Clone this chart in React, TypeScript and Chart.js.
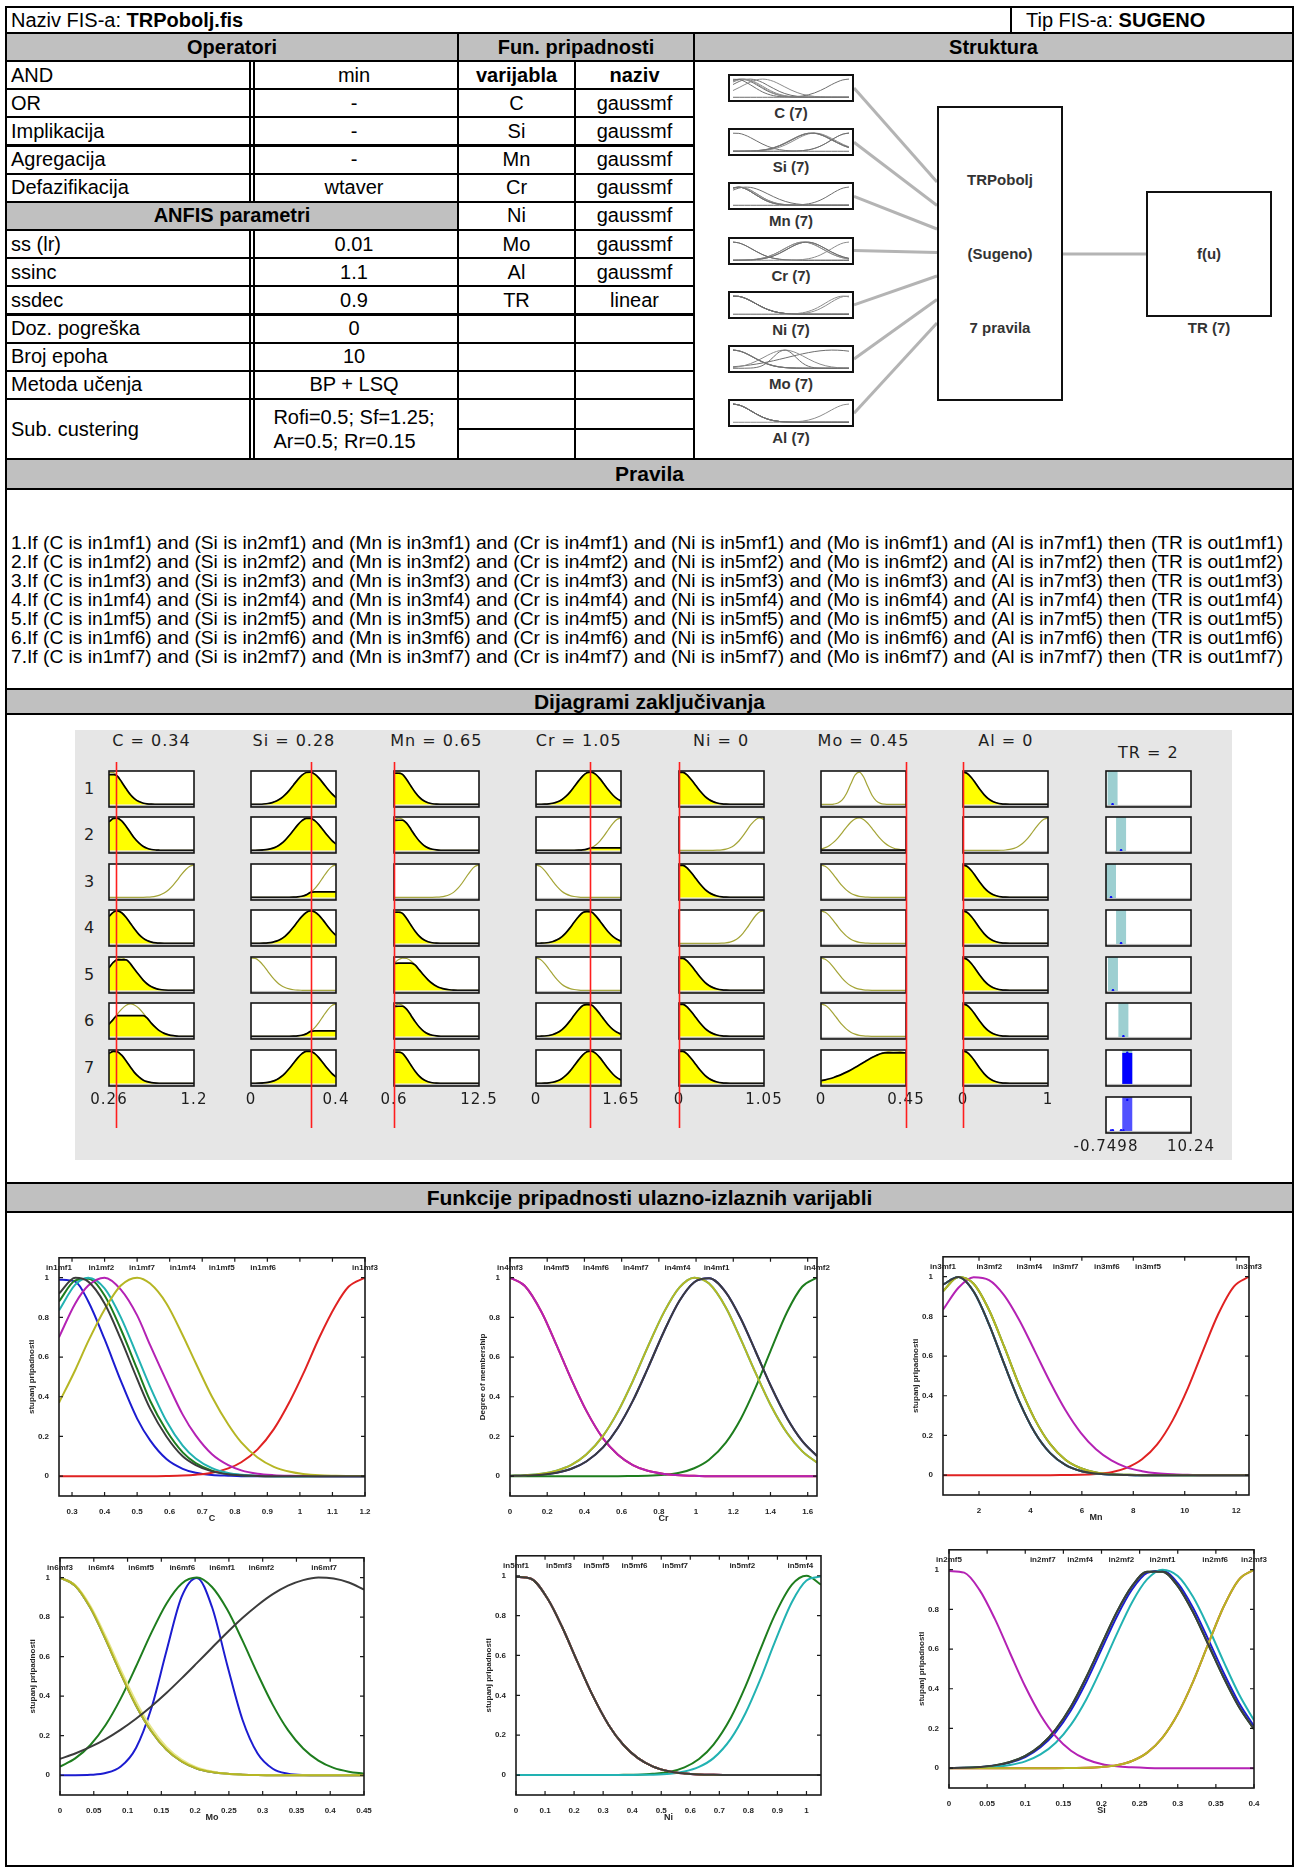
import React, { useEffect, useRef } from "react";
import { Chart, registerables } from "chart.js";

Chart.register(...registerables);

// ======================= DATA =======================
// Membership functions, one x grid per variable.
const X_C = [0.26, 0.31, 0.35, 0.4, 0.45, 0.5, 0.54, 0.59, 0.64, 0.68, 0.73, 0.78, 0.82, 0.87, 0.92, 0.97, 1.01, 1.06, 1.11, 1.15, 1.2];
const C_MF1 = [0.99, 0.98, 0.88, 0.69, 0.48, 0.29, 0.18, 0.086, 0.037, 0.017, 0.006, 0.002, 0, 0, 0, 0, 0, 0, 0, 0, 0];
const C_MF2 = [0.88, 0.986, 0.995, 0.91, 0.74, 0.54, 0.38, 0.23, 0.12, 0.066, 0.028, 0.011, 0.005, 0.001, 0, 0, 0, 0, 0, 0, 0];
const C_MF3 = [0, 0, 0, 0, 0, 0, 0, 0.001, 0.003, 0.007, 0.017, 0.039, 0.07, 0.135, 0.237, 0.38, 0.515, 0.7, 0.86, 0.955, 1];
const C_MF4 = [0.835, 0.965, 1, 0.946, 0.8, 0.607, 0.45, 0.278, 0.154, 0.089, 0.04, 0.016, 0.007, 0.002, 0, 0, 0, 0, 0, 0, 0];
const C_MF5 = [0.7, 0.87, 0.96, 1, 0.94, 0.81, 0.66, 0.48, 0.31, 0.205, 0.11, 0.055, 0.029, 0.012, 0.005, 0.002, 0.001, 0, 0, 0, 0];
const C_MF6 = [0.37, 0.535, 0.68, 0.84, 0.96, 1, 0.97, 0.87, 0.71, 0.57, 0.4, 0.26, 0.17, 0.094, 0.047, 0.022, 0.011, 0.004, 0.002, 0.001, 0];
const C_MF7 = [0.92, 1, 0.98, 0.87, 0.69, 0.49, 0.34, 0.2, 0.1, 0.056, 0.024, 0.009, 0.004, 0.001, 0, 0, 0, 0, 0, 0, 0];

const X_SI = [0, 0.02, 0.04, 0.06, 0.08, 0.1, 0.12, 0.14, 0.16, 0.18, 0.2, 0.22, 0.24, 0.26, 0.28, 0.3, 0.32, 0.34, 0.36, 0.38, 0.4];
const SI_MF1 = [0.001, 0.002, 0.005, 0.013, 0.028, 0.056, 0.105, 0.182, 0.292, 0.434, 0.598, 0.763, 0.9, 0.984, 0.995, 0.932, 0.808, 0.649, 0.482, 0.331, 0.211];
const SI_MF4 = [0, 0.001, 0.003, 0.007, 0.016, 0.034, 0.069, 0.128, 0.219, 0.346, 0.504, 0.675, 0.835, 0.952, 1, 0.968, 0.863, 0.71, 0.538, 0.375, 0.241];
const SI_MF5 = [0.993, 0.985, 0.898, 0.753, 0.58, 0.411, 0.268, 0.16, 0.088, 0.045, 0.021, 0.009, 0.004, 0.001, 0, 0, 0, 0, 0, 0, 0];
const SI_MF6 = [0, 0, 0, 0, 0, 0, 0, 0, 0.001, 0.002, 0.006, 0.015, 0.036, 0.078, 0.154, 0.273, 0.435, 0.626, 0.812, 0.949, 1];
const SI_MF7 = [0.001, 0.002, 0.006, 0.014, 0.031, 0.062, 0.114, 0.196, 0.311, 0.458, 0.623, 0.786, 0.917, 0.99, 0.99, 0.917, 0.786, 0.623, 0.458, 0.311, 0.196];
const SI_MF2 = SI_MF7;
const SI_MF3 = SI_MF6;

const X_MN = [0.6, 1.2, 1.79, 2.39, 2.98, 3.58, 4.17, 4.77, 5.36, 5.96, 6.55, 7.15, 7.74, 8.34, 8.93, 9.53, 10.12, 10.72, 11.31, 11.91, 12.5];
const MN_MF3 = [0, 0, 0, 0, 0, 0, 0, 0, 0.001, 0.002, 0.006, 0.015, 0.037, 0.08, 0.155, 0.276, 0.437, 0.63, 0.813, 0.95, 1];
const MN_MF5 = [0.833, 0.944, 0.997, 0.983, 0.906, 0.778, 0.625, 0.468, 0.328, 0.213, 0.13, 0.074, 0.039, 0.02, 0.009, 0.004, 0.002, 0, 0, 0, 0];
const MN_MF6 = [0.927, 0.998, 0.964, 0.832, 0.647, 0.448, 0.281, 0.156, 0.078, 0.035, 0.014, 0.005, 0.002, 0, 0, 0, 0, 0, 0, 0, 0];
const MN_MF7 = [0.96, 0.998, 0.925, 0.76, 0.56, 0.367, 0.215, 0.111, 0.052, 0.021, 0.008, 0.003, 0.001, 0, 0, 0, 0, 0, 0, 0, 0];
const MN_MF1 = MN_MF7;
const MN_MF2 = MN_MF6;
const MN_MF4 = MN_MF7;

const X_CR = [0, 0.08, 0.17, 0.25, 0.33, 0.41, 0.5, 0.58, 0.66, 0.74, 0.83, 0.91, 0.99, 1.07, 1.16, 1.24, 1.32, 1.4, 1.49, 1.57, 1.65];
const CR_MF2 = [0, 0, 0, 0, 0, 0, 0, 0, 0.001, 0.002, 0.007, 0.017, 0.04, 0.083, 0.169, 0.288, 0.447, 0.63, 0.828, 0.954, 1];
const CR_MF5 = [1, 0.958, 0.826, 0.66, 0.487, 0.33, 0.19, 0.108, 0.056, 0.027, 0.011, 0.004, 0.002, 0, 0, 0, 0, 0, 0, 0, 0];
const CR_MF6 = [0.002, 0.005, 0.012, 0.028, 0.057, 0.109, 0.203, 0.325, 0.479, 0.65, 0.83, 0.95, 1, 0.97, 0.85, 0.69, 0.52, 0.36, 0.216, 0.126, 0.068];
const CR_MF7 = [0.001, 0.003, 0.007, 0.017, 0.037, 0.074, 0.145, 0.244, 0.379, 0.542, 0.734, 0.882, 0.977, 0.997, 0.926, 0.794, 0.628, 0.458, 0.291, 0.178, 0.101];
const CR_MF1 = CR_MF7;
const CR_MF3 = CR_MF5;
const CR_MF4 = CR_MF6;

const X_NI = [0, 0.05, 0.11, 0.16, 0.21, 0.26, 0.32, 0.37, 0.42, 0.47, 0.53, 0.58, 0.63, 0.68, 0.74, 0.79, 0.84, 0.89, 0.95, 1, 1.05];
const NI_MF2 = [0, 0, 0, 0, 0, 0, 0, 0.001, 0.002, 0.006, 0.017, 0.039, 0.081, 0.153, 0.289, 0.445, 0.625, 0.8, 0.955, 1, 0.955];
const NI_MF4 = [0, 0, 0, 0, 0, 0, 0, 0, 0.001, 0.002, 0.007, 0.018, 0.041, 0.085, 0.183, 0.31, 0.476, 0.663, 0.868, 0.976, 0.996];
const NI_MF7 = [0.994, 0.986, 0.882, 0.739, 0.573, 0.411, 0.249, 0.151, 0.085, 0.044, 0.018, 0.008, 0.003, 0.001, 0, 0, 0, 0, 0, 0, 0];
const NI_MF1 = NI_MF7;
const NI_MF3 = NI_MF7;
const NI_MF5 = NI_MF7;
const NI_MF6 = NI_MF7;

const X_MO = [0, 0.0225, 0.045, 0.0675, 0.09, 0.1125, 0.135, 0.1575, 0.18, 0.2025, 0.225, 0.2475, 0.27, 0.2925, 0.315, 0.3375, 0.36, 0.3825, 0.405, 0.4275, 0.45];
const MO_MF1 = [0, 0, 0.002, 0.011, 0.044, 0.138, 0.336, 0.627, 0.902, 0.998, 0.851, 0.558, 0.282, 0.11, 0.033, 0.008, 0.001, 0, 0, 0, 0];
const MO_MF2 = [0.044, 0.085, 0.153, 0.254, 0.389, 0.55, 0.719, 0.868, 0.969, 1, 0.952, 0.838, 0.682, 0.513, 0.356, 0.228, 0.135, 0.074, 0.037, 0.018, 0.008];
const MO_MF6 = [1, 0.959, 0.847, 0.688, 0.514, 0.353, 0.224, 0.13, 0.07, 0.034, 0.016, 0.007, 0.003, 0.001, 0, 0, 0, 0, 0, 0, 0];
const MO_MF7 = [0.083, 0.11, 0.143, 0.183, 0.231, 0.286, 0.348, 0.416, 0.49, 0.567, 0.645, 0.722, 0.795, 0.86, 0.916, 0.959, 0.987, 1, 0.995, 0.975, 0.939];
const MO_MF3 = MO_MF6;
const MO_MF4 = MO_MF6;
const MO_MF5 = [1, 0.962, 0.856, 0.703, 0.533, 0.373, 0.241, 0.143, 0.079, 0.04, 0.019, 0.008, 0.003, 0.001, 0, 0, 0, 0, 0, 0, 0];

const X_AL = [0, 0.05, 0.1, 0.15, 0.2, 0.25, 0.3, 0.35, 0.4, 0.45, 0.5, 0.55, 0.6, 0.65, 0.7, 0.75, 0.8, 0.85, 0.9, 0.95, 1];
const AL_MF2 = [0, 0, 0, 0, 0, 0, 0, 0.001, 0.002, 0.005, 0.013, 0.03, 0.063, 0.12, 0.211, 0.339, 0.501, 0.678, 0.841, 0.958, 1];
const AL_MF7 = [1, 0.952, 0.823, 0.644, 0.458, 0.295, 0.172, 0.091, 0.044, 0.019, 0.008, 0.003, 0.001, 0, 0, 0, 0, 0, 0, 0, 0];
const AL_MF1 = AL_MF7;
const AL_MF3 = AL_MF7;
const AL_MF4 = AL_MF7;
const AL_MF5 = AL_MF7;
const AL_MF6 = AL_MF7;

// Inputs of the rule viewer and membership degree of each rule's input mf
const INPUT_VALUES = [0.34, 0.28, 0.65, 1.05, 0, 0.45, 0]; // C, Si, Mn, Cr, Ni, Mo, Al
const LEVELS_C = [0.92, 1, 0, 1, 0.94, 0.64, 0.99];
const LEVELS_SI = [1, 0.99, 0.17, 1, 0, 0.17, 0.99];
const LEVELS_MN = [0.96, 0.93, 0, 0.96, 0.84, 0.93, 0.96];
const LEVELS_CR = [1, 0.08, 0, 0.98, 0, 0.98, 1];
const LEVELS_NI = [0.99, 0, 0.99, 0, 0.99, 0.99, 0.99];
const LEVELS_MO = [0, 0.01, 0, 0, 0, 0, 0.94];
const LEVELS_AL = [1, 0, 1, 1, 1, 1, 1];
const RANGE_LABELS = [["0.26", "1.2"], ["0", "0.4"], ["0.6", "12.5"], ["0", "1.65"], ["0", "1.05"], ["0", "0.45"], ["0", "1"]];

// Output (Sugeno, linear) per rule: output level and firing strength
const TR_Z = [0.1, 1.2, -0.1, 1.2, 0.15, 1.5, 2.0];
const TR_W = [0, 0, 0, 0, 0, 0, 0.94];
const TR_OUT = 2;
const TR_MIN = -0.7498;
const TR_MAX = 10.24;

// Big membership plots: tick values and mf label placements
const C_TICKS = [0.3, 0.4, 0.5, 0.6, 0.7, 0.8, 0.9, 1, 1.1, 1.2];
const CR_TICKS = [0, 0.2, 0.4, 0.6, 0.8, 1, 1.2, 1.4, 1.6];
const MN_TICKS = [2, 4, 6, 8, 10, 12];
const MO_TICKS = [0, 0.05, 0.1, 0.15, 0.2, 0.25, 0.3, 0.35, 0.4, 0.45];
const NI_TICKS = [0, 0.1, 0.2, 0.3, 0.4, 0.5, 0.6, 0.7, 0.8, 0.9, 1];
const SI_TICKS = [0, 0.05, 0.1, 0.15, 0.2, 0.25, 0.3, 0.35, 0.4];
const Y_TICKS = [0, 0.2, 0.4, 0.6, 0.8, 1];
const C_NAMES = ["in1mf1", "in1mf2", "in1mf7", "in1mf4", "in1mf5", "in1mf6", "in1mf3"];
const C_NAME_POS = [0.26, 0.39, 0.515, 0.64, 0.76, 0.887, 1.2];
const CR_NAMES = ["in4mf3", "in4mf5", "in4mf6", "in4mf7", "in4mf4", "in4mf1", "in4mf2"];
const CR_NAME_POS = [0, 0.249, 0.462, 0.676, 0.9, 1.11, 1.65];
const MN_NAMES = ["in3mf1", "in3mf2", "in3mf4", "in3mf7", "in3mf6", "in3mf5", "in3mf3"];
const MN_NAME_POS = [0.6, 2.4, 3.96, 5.37, 6.97, 8.57, 12.5];
const MO_NAMES = ["in6mf3", "in6mf4", "in6mf5", "in6mf6", "in6mf1", "in6mf2", "in6mf7"];
const MO_NAME_POS = [0, 0.061, 0.12, 0.181, 0.24, 0.298, 0.391];
const NI_NAMES = ["in5mf1", "in5mf3", "in5mf5", "in5mf6", "in5mf7", "in5mf2", "in5mf4"];
const NI_NAME_POS = [0, 0.148, 0.277, 0.408, 0.548, 0.779, 0.979];
const SI_NAMES = ["in2mf5", "in2mf7", "in2mf4", "in2mf2", "in2mf1", "in2mf6", "in2mf3"];
const SI_NAME_POS = [0, 0.123, 0.172, 0.226, 0.28, 0.349, 0.4];

// Table texts
const OPERATOR_ROWS = [
  ["AND", "min"], ["OR", "-"], ["Implikacija", "-"], ["Agregacija", "-"], ["Defazifikacija", "wtaver"],
  null,
  ["ss (lr)", "0.01"], ["ssinc", "1.1"], ["ssdec", "0.9"], ["Doz. pogreška", "0"], ["Broj epoha", "10"], ["Metoda učenja", "BP + LSQ"],
];
const MF_ROWS = [
  ["varijabla", "naziv"], ["C", "gaussmf"], ["Si", "gaussmf"], ["Mn", "gaussmf"], ["Cr", "gaussmf"], ["Ni", "gaussmf"],
  ["Mo", "gaussmf"], ["Al", "gaussmf"], ["TR", "linear"], ["", ""], ["", ""], ["", ""],
];
const RULES = [1, 2, 3, 4, 5, 6, 7].map(
  (k) => `${k}.If (C is in1mf${k}) and (Si is in2mf${k}) and (Mn is in3mf${k}) and (Cr is in4mf${k}) and (Ni is in5mf${k}) and (Mo is in6mf${k}) and (Al is in7mf${k}) then (TR is out1mf${k})`
);

// ======================= MODEL =======================
const VAR_C = { name: "C", x: X_C, min: 0.26, max: 1.2, mfs: [C_MF1, C_MF2, C_MF3, C_MF4, C_MF5, C_MF6, C_MF7], levels: LEVELS_C };
const VAR_SI = { name: "Si", x: X_SI, min: 0, max: 0.4, mfs: [SI_MF1, SI_MF2, SI_MF3, SI_MF4, SI_MF5, SI_MF6, SI_MF7], levels: LEVELS_SI };
const VAR_MN = { name: "Mn", x: X_MN, min: 0.6, max: 12.5, mfs: [MN_MF1, MN_MF2, MN_MF3, MN_MF4, MN_MF5, MN_MF6, MN_MF7], levels: LEVELS_MN };
const VAR_CR = { name: "Cr", x: X_CR, min: 0, max: 1.65, mfs: [CR_MF1, CR_MF2, CR_MF3, CR_MF4, CR_MF5, CR_MF6, CR_MF7], levels: LEVELS_CR };
const VAR_NI = { name: "Ni", x: X_NI, min: 0, max: 1.05, mfs: [NI_MF1, NI_MF2, NI_MF3, NI_MF4, NI_MF5, NI_MF6, NI_MF7], levels: LEVELS_NI };
const VAR_MO = { name: "Mo", x: X_MO, min: 0, max: 0.45, mfs: [MO_MF1, MO_MF2, MO_MF3, MO_MF4, MO_MF5, MO_MF6, MO_MF7], levels: LEVELS_MO };
const VAR_AL = { name: "Al", x: X_AL, min: 0, max: 1, mfs: [AL_MF1, AL_MF2, AL_MF3, AL_MF4, AL_MF5, AL_MF6, AL_MF7], levels: LEVELS_AL };
const INPUT_VARS = [VAR_C, VAR_SI, VAR_MN, VAR_CR, VAR_NI, VAR_MO, VAR_AL];

const MF_COLORS = ["#1c1cd0", "#1e7d1e", "#e02222", "#22b2b2", "#c070c0", "#b6b624", "#3c3c3c"];
const MF_COLORS_MAIN = ["#1c1cd0", "#1e7d1e", "#e02222", "#22b2b2", "#b422b4", "#b6b624", "#3c3c3c"];
const OLIVE = "#a4a436";
const SANS = '"Liberation Sans", Arial, Helvetica, sans-serif';
const MAT = '"DejaVu Sans", Verdana, sans-serif';

const fmt = (v: number) => String(Number(Number(v).toFixed(4)));

// ======================= CHART HELPERS =======================
function ChartCanvas({ x, y, w, h, make }: any) {
  const ref = useRef<HTMLCanvasElement>(null);
  useEffect(() => {
    const chart = new Chart(ref.current as HTMLCanvasElement, make());
    return () => chart.destroy();
  }, []);
  return (
    <canvas
      ref={ref}
      width={w}
      height={h}
      style={{ position: "absolute", left: x, top: y, width: w, height: h, display: "block" }}
    />
  );
}

const baseOpts = (extra: any) => ({
  responsive: false,
  animation: false,
  devicePixelRatio: 1,
  events: [],
  plugins: { legend: { display: false }, tooltip: { enabled: false } },
  ...extra,
});

function framePlugin(names: string[], pos: number[]) {
  return {
    id: "mfFrame",
    afterDraw(chart: any) {
      const { ctx, chartArea: a, scales } = chart;
      const xs = scales.x;
      const ys = scales.y;
      ctx.save();
      ctx.strokeStyle = "#1a1a1a";
      ctx.lineWidth = 1.6;
      ctx.strokeRect(a.left, a.top, a.right - a.left, a.bottom - a.top);
      ctx.lineWidth = 1.2;
      ctx.beginPath();
      xs.ticks.forEach((t: any) => {
        const p = xs.getPixelForValue(t.value);
        ctx.moveTo(p, a.bottom);
        ctx.lineTo(p, a.bottom - 4);
        ctx.moveTo(p, a.top);
        ctx.lineTo(p, a.top + 4);
      });
      ys.ticks.forEach((t: any) => {
        const p = ys.getPixelForValue(t.value);
        ctx.moveTo(a.left, p);
        ctx.lineTo(a.left + 4, p);
        ctx.moveTo(a.right, p);
        ctx.lineTo(a.right - 4, p);
      });
      ctx.stroke();
      ctx.fillStyle = "#262626";
      ctx.font = `bold 8px ${SANS}`;
      ctx.textAlign = "center";
      ctx.textBaseline = "middle";
      const ly = ys.getPixelForValue(1.05);
      names.forEach((n, i) => ctx.fillText(n, xs.getPixelForValue(pos[i]), ly));
      ctx.restore();
    },
  };
}

function mfPlotConfig(p: any) {
  const v = p.v;
  const datasets = v.mfs.map((ys: number[], k: number) => ({
    data: v.x.map((x: number, i: number) => ({ x, y: ys[i] })),
    borderColor: k === 4 && v.name === "Mo" ? "#e6e68c" : MF_COLORS_MAIN[k],
    borderWidth: 2,
    pointRadius: 0,
    fill: false,
    cubicInterpolationMode: "monotone",
    order: 7 - k,
  }));
  const tickFont = { family: SANS, size: 8, weight: "bold" };
  return {
    type: "line",
    data: { datasets },
    options: baseOpts({
      layout: { padding: { left: 10, right: 18, top: 4, bottom: 2 }, autoPadding: false },
      scales: {
        x: {
          type: "linear",
          min: v.min,
          max: v.max,
          afterBuildTicks: (s: any) => {
            s.ticks = p.ticks.map((value: number) => ({ value }));
          },
          afterFit: (s: any) => {
            s.height = 28;
          },
          grid: { display: false },
          border: { display: false },
          ticks: { font: tickFont, color: "#262626", padding: 3, maxRotation: 0, autoSkip: false, callback: (val: any) => fmt(val) },
          title: { display: true, text: v.name, font: { family: SANS, size: 9, weight: "bold" }, color: "#262626", padding: 0 },
        },
        y: {
          type: "linear",
          min: -0.1,
          max: 1.1,
          afterBuildTicks: (s: any) => {
            s.ticks = Y_TICKS.map((value) => ({ value }));
          },
          afterFit: (s: any) => {
            s.width = 32;
          },
          grid: { display: false },
          border: { display: false },
          ticks: { font: tickFont, color: "#262626", padding: 2, autoSkip: false, callback: (val: any) => fmt(val) },
          title: { display: true, text: p.ytitle, font: { family: SANS, size: 8, weight: "bold" }, color: "#262626", padding: 0 },
        },
      },
    }),
    plugins: [framePlugin(p.names, p.pos)],
  };
}

function cellDeco(input: number | null, labels: string[] | null) {
  return {
    id: "cellDeco",
    beforeDatasetsDraw(chart: any) {
      const { ctx, chartArea: a } = chart;
      ctx.save();
      ctx.fillStyle = "#ffffff";
      ctx.fillRect(a.left, a.top, a.right - a.left, a.bottom - a.top);
      ctx.restore();
    },
    afterDatasetsDraw(chart: any) {
      const { ctx, chartArea: a, scales } = chart;
      const y0 = scales.y.getPixelForValue(0);
      ctx.save();
      ctx.fillStyle = "#b9b9b9";
      ctx.fillRect(a.left, y0 + 0.5, a.right - a.left, a.bottom - y0 - 0.5);
      ctx.strokeStyle = "#151515";
      ctx.lineWidth = 1.6;
      ctx.strokeRect(a.left, a.top, a.right - a.left, a.bottom - a.top);
      ctx.restore();
    },
    afterDraw(chart: any) {
      const { ctx, chartArea: a, scales } = chart;
      const xs = scales.x;
      ctx.save();
      if (labels) {
        ctx.font = `15px ${MAT}`;
        try {
          (ctx as any).letterSpacing = "1px";
        } catch (e) {}
        ctx.fillStyle = "#1e1e1e";
        ctx.textAlign = "center";
        ctx.textBaseline = "middle";
        ctx.fillText(labels[0], xs.getPixelForValue(xs.min), a.bottom + 14);
        ctx.fillText(labels[1], xs.getPixelForValue(xs.max), a.bottom + 14);
      }
      if (input !== null) {
        const px = Math.round(xs.getPixelForValue(input)) + 0.5;
        ctx.strokeStyle = "#ff1e1e";
        ctx.lineWidth = 1.6;
        ctx.beginPath();
        ctx.moveTo(px, 0);
        ctx.lineTo(px, chart.height);
        ctx.stroke();
      }
      ctx.restore();
    },
  };
}

const CELL_YMIN = -0.08;
const CELL_YMAX = 1.03;

function cellOptions(min: number, max: number, pad: any) {
  return baseOpts({
    layout: { padding: pad, autoPadding: false },
    scales: {
      x: { type: "linear", min, max, display: false },
      y: { type: "linear", min: CELL_YMIN, max: CELL_YMAX, display: false },
    },
  });
}

function inputCellConfig(v: any, k: number, input: number, pad: any, labels: string[] | null) {
  const mf = v.mfs[k];
  const level = v.levels[k];
  const datasets: any[] = [];
  if (level > 0) {
    datasets.push({
      data: v.x.map((x: number, i: number) => ({ x, y: Math.min(mf[i], level) })),
      borderColor: "#000000",
      borderWidth: 1.7,
      backgroundColor: "#ffff00",
      fill: "origin",
      pointRadius: 0,
      cubicInterpolationMode: "monotone",
      order: 0,
    });
  }
  datasets.push({
    data: v.x.map((x: number, i: number) => ({ x, y: mf[i] })),
    borderColor: OLIVE,
    borderWidth: 1.2,
    fill: false,
    pointRadius: 0,
    cubicInterpolationMode: "monotone",
    order: 1,
  });
  return { type: "line", data: { datasets }, options: cellOptions(v.min, v.max, pad), plugins: [cellDeco(input, labels)] };
}

function outputCellConfig(k: number, pad: any) {
  const z = TR_Z[k];
  const w = TR_W[k];
  const datasets: any[] = [
    { data: [{ x: z, y: CELL_YMIN }, { x: z, y: CELL_YMAX }], borderColor: "#9dcfd1", borderWidth: 10, pointRadius: 0, order: 3 },
  ];
  if (w > 0) {
    datasets.push({ data: [{ x: z, y: CELL_YMIN }, { x: z, y: w }], borderColor: "#0000ff", borderWidth: 10, pointRadius: 0, order: 2 });
  }
  datasets.push({ data: [{ x: z, y: w }], showLine: false, pointRadius: 1.3, pointBorderWidth: 0, pointBackgroundColor: "#0000ff", order: 1 });
  return { type: "line", data: { datasets }, options: cellOptions(TR_MIN, TR_MAX, pad), plugins: [cellDeco(null, null)] };
}

function aggregateCellConfig(pad: any) {
  const datasets: any[] = [
    { data: [{ x: TR_OUT, y: CELL_YMIN }, { x: TR_OUT, y: CELL_YMAX }], borderColor: "#5151ff", borderWidth: 10, pointRadius: 0, order: 2 },
    {
      data: TR_Z.map((z, i) => ({ x: z, y: TR_W[i] })),
      showLine: false,
      pointRadius: 1.2,
      pointBorderWidth: 0,
      pointBackgroundColor: "#0000ff",
      order: 1,
    },
  ];
  return {
    type: "line",
    data: { datasets },
    options: cellOptions(TR_MIN, TR_MAX, pad),
    plugins: [cellDeco(null, [fmt(TR_MIN), fmt(TR_MAX)])],
  };
}

function thumbConfig(v: any) {
  const datasets = v.mfs.map((ys: number[], k: number) => ({
    data: v.x.map((x: number, i: number) => ({ x, y: ys[i] })),
    borderColor: k % 2 ? "#8c8c8c" : "#6e6e6e",
    borderWidth: 1,
    pointRadius: 0,
    fill: false,
    cubicInterpolationMode: "monotone",
  }));
  return {
    type: "line",
    data: { datasets },
    options: baseOpts({
      layout: { padding: { left: 2, right: 2, top: 1, bottom: 1 }, autoPadding: false },
      scales: {
        x: { type: "linear", min: v.min, max: v.max, display: false },
        y: { type: "linear", min: -0.04, max: 1.06, display: false },
      },
    }),
  };
}

// ======================= LAYOUT =======================
const X0 = 6, X1 = 250, X2 = 458, X3 = 575, X4 = 694, X5 = 1293, XT = 1011;
const ROW_TOPS = [61, 89.2, 117.3, 145.5, 173.7, 201.8, 230, 258.2, 286.3, 314.5, 342.7, 370.8, 399];

function Cell({ x1, y1, x2, y2, bg, children, align, bold, size, pl }: any) {
  return (
    <div
      style={{
        position: "absolute",
        left: x1 - 1,
        top: y1 - 1,
        width: x2 - x1 + 2,
        height: y2 - y1 + 2,
        border: "2px solid #000",
        boxSizing: "border-box",
        background: bg || "#fff",
        display: "flex",
        alignItems: "center",
        justifyContent: align === "left" ? "flex-start" : "center",
        paddingLeft: pl || 0,
        fontFamily: SANS,
        fontSize: size || 20,
        fontWeight: bold ? "bold" : "normal",
        color: "#000",
        whiteSpace: "pre",
        overflow: "hidden",
      }}
    >
      {children !== undefined ? <span>{children}</span> : null}
    </div>
  );
}

function Table() {
  const els: any[] = [];
  els.push(
    <Cell key="naz" x1={X0} y1={7} x2={XT} y2={33} align="left" pl={4}>
      Naziv FIS-a: <b>TRPobolj.fis</b>
    </Cell>
  );
  els.push(
    <Cell key="tip" x1={XT} y1={7} x2={X5} y2={33} align="left" pl={14}>
      Tip FIS-a: <b>SUGENO</b>
    </Cell>
  );
  els.push(<Cell key="h1" x1={X0} y1={33} x2={X2} y2={61} bg="#c0c0c0" bold>Operatori</Cell>);
  els.push(<Cell key="h2" x1={X2} y1={33} x2={X4} y2={61} bg="#c0c0c0" bold>Fun. pripadnosti</Cell>);
  els.push(<Cell key="h3" x1={X4} y1={33} x2={X5} y2={61} bg="#c0c0c0" bold>Struktura</Cell>);
  OPERATOR_ROWS.forEach((r, i) => {
    const y1 = ROW_TOPS[i];
    const y2 = ROW_TOPS[i + 1];
    if (!r) {
      els.push(<Cell key={"op" + i} x1={X0} y1={y1} x2={X2} y2={y2} bg="#c0c0c0" bold>ANFIS parametri</Cell>);
    } else {
      els.push(<Cell key={"opa" + i} x1={X0} y1={y1} x2={X1} y2={y2} align="left" pl={4}>{r[0]}</Cell>);
      els.push(<Cell key={"opb" + i} x1={X1} y1={y1} x2={X2} y2={y2}>{r[1]}</Cell>);
    }
    const m = MF_ROWS[i];
    els.push(<Cell key={"mfa" + i} x1={X2} y1={y1} x2={X3} y2={y2} bold={i === 0}>{m[0]}</Cell>);
    els.push(<Cell key={"mfb" + i} x1={X3} y1={y1} x2={X4} y2={y2} bold={i === 0}>{m[1]}</Cell>);
  });
  els.push(<Cell key="suba" x1={X0} y1={399} x2={X1} y2={459} align="left" pl={4}>Sub. custering</Cell>);
  els.push(
    <Cell key="subb" x1={X1} y1={399} x2={X2} y2={459}>
      <span style={{ display: "inline-block", textAlign: "left", lineHeight: "24px" }}>{"Rofi=0.5; Sf=1.25;\nAr=0.5; Rr=0.15"}</span>
    </Cell>
  );
  els.push(<Cell key="subc" x1={X2} y1={399} x2={X3} y2={429} />);
  els.push(<Cell key="subd" x1={X3} y1={399} x2={X4} y2={429} />);
  els.push(<Cell key="sube" x1={X2} y1={429} x2={X3} y2={459} />);
  els.push(<Cell key="subf" x1={X3} y1={429} x2={X4} y2={459} />);
  els.push(<Cell key="str" x1={X4} y1={61} x2={X5} y2={459} />);
  // double line between the first two operator columns
  els.push(<div key="dl1" style={{ position: "absolute", left: X1 + 3, top: 61, width: 1.5, height: 201.8 - 61, background: "#000" }} />);
  els.push(<div key="dl2" style={{ position: "absolute", left: X1 + 3, top: 230, width: 1.5, height: 459 - 230, background: "#000" }} />);
  // section blocks
  els.push(<Cell key="prh" x1={X0} y1={459} x2={X5} y2={489} bg="#c0c0c0" bold size={21}>Pravila</Cell>);
  els.push(<Cell key="prb" x1={X0} y1={489} x2={X5} y2={689} />);
  els.push(<Cell key="djh" x1={X0} y1={689} x2={X5} y2={714} bg="#c0c0c0" bold size={21}>Dijagrami zaključivanja</Cell>);
  els.push(<Cell key="djb" x1={X0} y1={714} x2={X5} y2={1183} />);
  els.push(<Cell key="fnh" x1={X0} y1={1183} x2={X5} y2={1212} bg="#c0c0c0" bold size={21}>Funkcije pripadnosti ulazno-izlaznih varijabli</Cell>);
  els.push(<Cell key="fnb" x1={X0} y1={1212} x2={X5} y2={1866} />);
  RULES.forEach((t, i) => {
    els.push(
      <div
        key={"rule" + i}
        style={{
          position: "absolute",
          left: 11,
          top: 543 + 19 * i - 11,
          height: 22,
          lineHeight: "22px",
          fontFamily: SANS,
          fontSize: 19.2,
          whiteSpace: "pre",
          color: "#000",
        }}
      >
        {t}
      </div>
    );
  });
  return <>{els}</>;
}

function Structure() {
  const bx = 728, bw = 126, bh = 28, by0 = 74, bp = 54.2;
  const cx = 937, cy = 106, cw = 126, ch = 295;
  const ox = 1146, oy = 191, ow = 126, oh = 126;
  const textStyle = (x: number, y: number): any => ({
    position: "absolute",
    left: x - 70,
    width: 140,
    top: y - 10,
    height: 20,
    lineHeight: "20px",
    textAlign: "center",
    fontFamily: SANS,
    fontWeight: "bold",
    fontSize: 15,
    color: "#333",
  });
  const boxStyle = (x: number, y: number, w: number, h: number): any => ({
    position: "absolute",
    left: x,
    top: y,
    width: w,
    height: h,
    border: "2.5px solid #111",
    boxSizing: "border-box",
    background: "#fff",
  });
  const els: any[] = [];
  els.push(
    <svg key="svg" width={1295} height={1868} style={{ position: "absolute", left: 0, top: 0 }}>
      {INPUT_VARS.map((v, i) => (
        <line key={v.name} x1={bx + bw} y1={by0 + bp * i + bh / 2} x2={cx} y2={cy + 76 + 23.5 * i} stroke="#b4b4b4" strokeWidth={3} />
      ))}
      <line x1={cx + cw} y1={oy + oh / 2} x2={ox} y2={oy + oh / 2} stroke="#b4b4b4" strokeWidth={3} />
    </svg>
  );
  INPUT_VARS.forEach((v, i) => {
    const y = Math.round(by0 + bp * i);
    els.push(<div key={"b" + i} style={boxStyle(bx, y, bw, bh)} />);
    els.push(<ChartCanvas key={"th" + i} x={bx + 3} y={y + 3} w={bw - 6} h={bh - 6} make={() => thumbConfig(v)} />);
    els.push(<div key={"l" + i} style={textStyle(bx + bw / 2, y + bh + 11)}>{`${v.name} (7)`}</div>);
  });
  els.push(<div key="cbox" style={boxStyle(cx, cy, cw, ch)} />);
  els.push(<div key="c1" style={textStyle(cx + cw / 2, 180)}>TRPobolj</div>);
  els.push(<div key="c2" style={textStyle(cx + cw / 2, 254)}>(Sugeno)</div>);
  els.push(<div key="c3" style={textStyle(cx + cw / 2, 328)}>7 pravila</div>);
  els.push(<div key="obox" style={boxStyle(ox, oy, ow, oh)} />);
  els.push(<div key="o1" style={textStyle(ox + ow / 2, 254)}>f(u)</div>);
  els.push(<div key="o2" style={textStyle(ox + ow / 2, 328)}>TR (7)</div>);
  return <>{els}</>;
}

const INF_X0 = 109, INF_PX = 142.4, INF_W = 85, INF_Y0 = 770.7, INF_PY = 46.55, INF_H = 36;

function rowBound(r: number) {
  return Math.round(INF_Y0 + INF_PY * r - (INF_PY - INF_H) / 2);
}

function Inference() {
  const els: any[] = [];
  els.push(<div key="panel" style={{ position: "absolute", left: 75, top: 730, width: 1157, height: 430, background: "#e6e6e6" }} />);
  const titleStyle = (cx: number, cyy: number): any => ({
    position: "absolute",
    left: cx - 80,
    width: 160,
    top: cyy - 11,
    height: 22,
    lineHeight: "22px",
    textAlign: "center",
    fontFamily: MAT,
    fontSize: 16,
    letterSpacing: "1px",
    color: "#1e1e1e",
  });
  INPUT_VARS.forEach((v, c) => {
    const cx = INF_X0 + INF_PX * c + INF_W / 2;
    els.push(<div key={"t" + c} style={titleStyle(cx, 741)}>{`${v.name} = ${INPUT_VALUES[c]}`}</div>);
  });
  els.push(<div key="ttr" style={titleStyle(INF_X0 + INF_PX * 7 + INF_W / 2, 753)}>{`TR = ${TR_OUT}`}</div>);
  for (let r = 0; r < 7; r++) {
    els.push(
      <div
        key={"rl" + r}
        style={{ ...titleStyle(89, INF_Y0 + INF_PY * r + INF_H / 2), left: 89 - 20, width: 40, letterSpacing: 0 }}
      >
        {String(r + 1)}
      </div>
    );
  }
  for (let c = 0; c < 8; c++) {
    const side = c === 7 ? 42 : 28;
    const cellX = Math.round(INF_X0 + INF_PX * c);
    const rows = c === 7 ? 8 : 7;
    for (let r = 0; r < rows; r++) {
      const bt = Math.round(INF_Y0 + INF_PY * r);
      const bb = Math.round(INF_Y0 + INF_PY * r + INF_H);
      const top = r === 0 ? Math.round(INF_Y0 - 9) : rowBound(r);
      let bottom = rowBound(r + 1);
      if (c < 7 && r === 6) bottom = bb + 42;
      if (c === 7 && r === 7) bottom = bb + 26;
      const pad = { left: side, right: side, top: bt - top, bottom: bottom - bb };
      const w = INF_W + 2 * side;
      const h = bottom - top;
      let make;
      if (c < 7) {
        const v = INPUT_VARS[c];
        const labels = r === 6 ? RANGE_LABELS[c] : null;
        make = () => inputCellConfig(v, r, INPUT_VALUES[c], pad, labels);
      } else if (r < 7) {
        make = () => outputCellConfig(r, pad);
      } else {
        make = () => aggregateCellConfig(pad);
      }
      els.push(<ChartCanvas key={`cell${c}_${r}`} x={cellX - side} y={top} w={w} h={h} make={make} />);
    }
  }
  return <>{els}</>;
}

const PLOTS = [
  { v: VAR_C, box: [59, 1255, 306, 241], ticks: C_TICKS, names: C_NAMES, pos: C_NAME_POS, ytitle: "stupanj pripadnosti" },
  { v: VAR_CR, box: [510, 1255, 307, 241], ticks: CR_TICKS, names: CR_NAMES, pos: CR_NAME_POS, ytitle: "Degree of membership" },
  { v: VAR_MN, box: [943, 1254, 306, 241], ticks: MN_TICKS, names: MN_NAMES, pos: MN_NAME_POS, ytitle: "stupanj pripadnosti" },
  { v: VAR_MO, box: [60, 1555, 304, 240], ticks: MO_TICKS, names: MO_NAMES, pos: MO_NAME_POS, ytitle: "stupanj pripadnosti" },
  { v: VAR_NI, box: [516, 1553, 305, 242], ticks: NI_TICKS, names: NI_NAMES, pos: NI_NAME_POS, ytitle: "stupanj pripadnosti" },
  { v: VAR_SI, box: [949, 1547, 305, 241], ticks: SI_TICKS, names: SI_NAMES, pos: SI_NAME_POS, ytitle: "stupanj pripadnosti" },
];

function Plots() {
  return (
    <>
      {PLOTS.map((p) => {
        const [bx, by, bw, bh] = p.box;
        return <ChartCanvas key={p.v.name} x={bx - 42} y={by - 4} w={bw + 60} h={bh + 34} make={() => mfPlotConfig(p)} />;
      })}
    </>
  );
}

export default function App() {
  return (
    <div style={{ position: "absolute", left: 0, top: 0, width: 1295, height: 1868, background: "#fff", overflow: "hidden" }}>
      <Table />
      <Structure />
      <Inference />
      <Plots />
    </div>
  );
}
